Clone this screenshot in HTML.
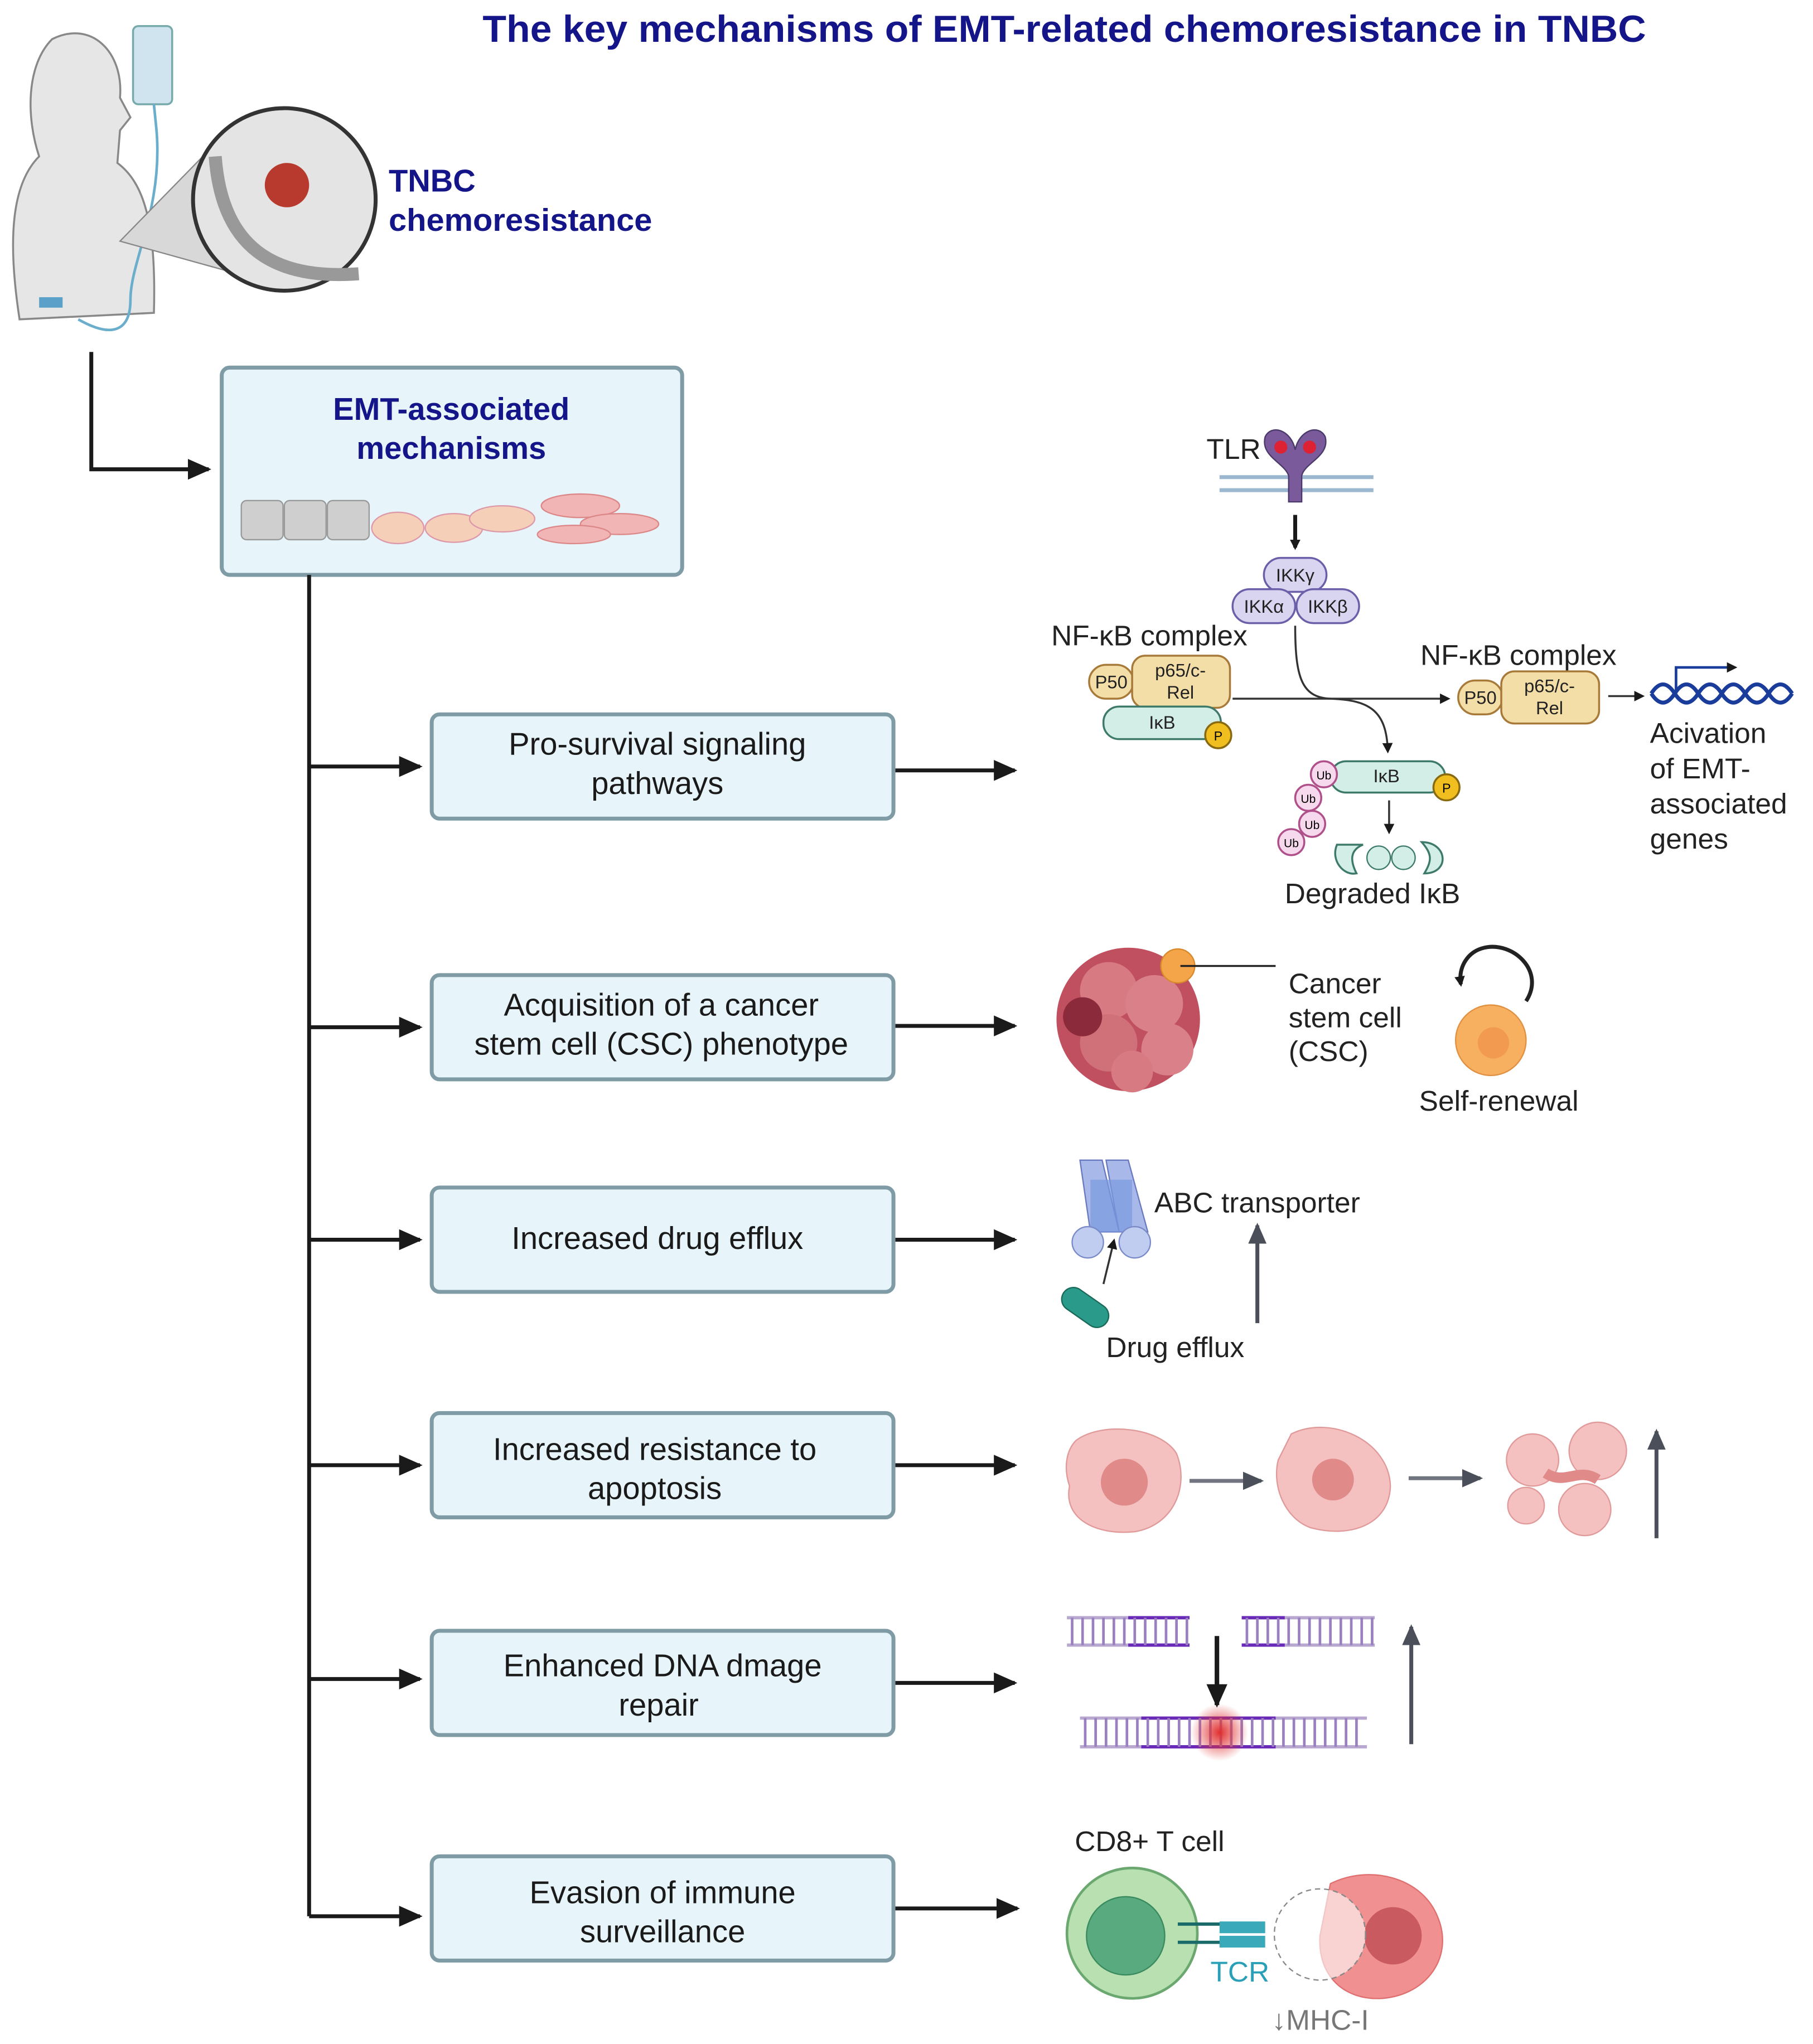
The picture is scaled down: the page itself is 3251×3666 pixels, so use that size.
<!DOCTYPE html>
<html><head><meta charset="utf-8"><style>
html,body{margin:0;padding:0;background:#fff}
svg{display:block}
text{font-family:"Liberation Sans",sans-serif}
.bx{fill:#e7f4f9;stroke:#7f9ba6;stroke-width:3}
.bt{font-size:24px;fill:#1a1a1a;text-anchor:middle}
.ln{stroke:#1a1a1a;stroke-width:3;fill:none}
.lb{font-size:22px;fill:#222}
.sm{font-size:14px;fill:#222;text-anchor:middle}
.ikk{fill:#d9d4f0;stroke:#6a5fa8;stroke-width:1.5}
.nf{fill:#f3dea8;stroke:#a87a3a;stroke-width:1.5}
.ib{fill:#d3eee6;stroke:#3d7a6a;stroke-width:1.5}
.ub{fill:#f6d9ec;stroke:#b0508a;stroke-width:1.5}
.p{fill:#f0be1e;stroke:#8a6a10;stroke-width:1.5}
</style></head><body>
<svg width="3251" height="3666" viewBox="0 0 1390 1568" preserveAspectRatio="none" xmlns="http://www.w3.org/2000/svg">
<defs>
<marker id="a" markerWidth="8" markerHeight="8" refX="6" refY="4" orient="auto" markerUnits="userSpaceOnUse" viewBox="0 0 8 8"><path d="M0,0 L8,4 L0,8z" fill="#1a1a1a"/></marker>
<marker id="A" markerWidth="18" markerHeight="16" refX="16" refY="8" orient="auto" markerUnits="userSpaceOnUse"><path d="M0,0 L18,8 L0,16z" fill="#1a1a1a"/></marker>
<marker id="g" markerWidth="16" markerHeight="14" refX="14" refY="7" orient="auto" markerUnits="userSpaceOnUse"><path d="M0,0 L16,7 L0,14z" fill="#4a4f5a"/></marker>
<radialGradient id="rd"><stop offset="0" stop-color="#e03030"/><stop offset="1" stop-color="#e03030" stop-opacity="0"/></radialGradient>
</defs>
<text x="370" y="32" font-size="29" font-weight="bold" fill="#15158a" textLength="892" lengthAdjust="spacingAndGlyphs">The key mechanisms of EMT-related chemoresistance in TNBC</text>
<!-- woman -->
<path d="M40,30 C70,15 95,40 92,75 L100,90 L92,100 L90,125 C110,140 120,170 118,240 L15,245 C5,180 10,140 30,120 C20,90 20,50 40,30z" fill="#e6e6e6" stroke="#888" stroke-width="1.5"/>
<rect x="102" y="20" width="30" height="60" rx="4" fill="#cfe4ee" stroke="#7aa" stroke-width="1.5"/>
<path d="M118,80 L120,100 C125,160 100,200 100,230 C100,250 90,262 60,245" fill="none" stroke="#6aaecb" stroke-width="2"/>
<rect x="30" y="228" width="18" height="8" fill="#5aa0c8"/>
<path d="M92,185 L175,100 L200,215z" fill="#d8d8d8" stroke="#888"/>
<circle cx="218" cy="153" r="70" fill="#e4e4e4" stroke="#333" stroke-width="3"/>
<path d="M165,120 C170,190 210,215 275,210" fill="none" stroke="#999" stroke-width="10"/>
<circle cx="220" cy="142" r="17" fill="#b83a2e"/>
<text x="298" y="147" font-size="24" font-weight="bold" fill="#15158a">TNBC</text>
<text x="298" y="177" font-size="24" font-weight="bold" fill="#15158a" textLength="202" lengthAdjust="spacingAndGlyphs">chemoresistance</text>
<!-- connectors -->
<path class="ln" d="M70,270 L70,360 L160,360" marker-end="url(#A)"/>
<rect class="bx" x="170" y="282" width="353" height="159" rx="6"/>
<text x="346" y="322" text-anchor="middle" font-size="24" font-weight="bold" fill="#15158a">EMT-associated</text>
<text x="346" y="352" text-anchor="middle" font-size="24" font-weight="bold" fill="#15158a">mechanisms</text>
<rect x="185" y="384" width="32" height="30" rx="4" fill="#cfcfcf" stroke="#999"/>
<rect x="218" y="384" width="32" height="30" rx="4" fill="#cfcfcf" stroke="#999"/>
<rect x="251" y="384" width="32" height="30" rx="4" fill="#cfcfcf" stroke="#999"/>
<ellipse cx="305" cy="405" rx="20" ry="12" fill="#f5cfb8" stroke="#d9a"/>
<ellipse cx="348" cy="405" rx="22" ry="11" fill="#f5cfb8" stroke="#d9a"/>
<ellipse cx="385" cy="398" rx="25" ry="10" fill="#f5cfb8" stroke="#d9a"/>
<ellipse cx="445" cy="388" rx="30" ry="9" fill="#f2b5b5" stroke="#d88"/>
<ellipse cx="475" cy="402" rx="30" ry="8" fill="#f2b5b5" stroke="#d88"/>
<ellipse cx="440" cy="410" rx="28" ry="7" fill="#f2b5b5" stroke="#d88"/>
<path class="ln" d="M237,441 L237,1470"/>
<g class="ln">
<path d="M237,588 L322,588" marker-end="url(#A)"/>
<path d="M237,788 L322,788" marker-end="url(#A)"/>
<path d="M237,951 L322,951" marker-end="url(#A)"/>
<path d="M237,1124 L322,1124" marker-end="url(#A)"/>
<path d="M237,1288 L322,1288" marker-end="url(#A)"/>
<path d="M237,1470 L322,1470" marker-end="url(#A)"/>
<path d="M686,591 L778,591" marker-end="url(#A)"/>
<path d="M686,787 L778,787" marker-end="url(#A)"/>
<path d="M686,951 L778,951" marker-end="url(#A)"/>
<path d="M686,1124 L778,1124" marker-end="url(#A)"/>
<path d="M686,1291 L778,1291" marker-end="url(#A)"/>
<path d="M686,1464 L780,1464" marker-end="url(#A)"/>
</g>
<rect class="bx" x="331" y="548" width="354" height="80" rx="6"/>
<text class="bt" x="504" y="579">Pro-survival signaling</text><text class="bt" x="504" y="609">pathways</text>
<rect class="bx" x="331" y="748" width="354" height="80" rx="6"/>
<text class="bt" x="507" y="779">Acquisition of a cancer</text><text class="bt" x="507" y="809">stem cell (CSC) phenotype</text>
<rect class="bx" x="331" y="911" width="354" height="80" rx="6"/>
<text class="bt" x="504" y="958">Increased drug efflux</text>
<rect class="bx" x="331" y="1084" width="354" height="80" rx="6"/>
<text class="bt" x="502" y="1120">Increased resistance to</text><text class="bt" x="502" y="1150">apoptosis</text>
<rect class="bx" x="331" y="1251" width="354" height="80" rx="6"/>
<text class="bt" x="508" y="1286">Enhanced DNA dmage</text><text class="bt" x="505" y="1316">repair</text>
<rect class="bx" x="331" y="1424" width="354" height="80" rx="6"/>
<text class="bt" x="508" y="1460">Evasion of immune</text><text class="bt" x="508" y="1490">surveillance</text>
<!-- NF-kB -->
<line x1="935" y1="366" x2="1053" y2="366" stroke="#9bb8d0" stroke-width="3"/>
<line x1="935" y1="376" x2="1053" y2="376" stroke="#9bb8d0" stroke-width="3"/>
<path d="M970,335 C975,325 990,330 993,345 C996,330 1011,325 1016,335 C1020,350 1000,355 998,365 L998,385 L988,385 L988,365 C985,355 966,350 970,335z" fill="#7a5a9a" stroke="#4a3a6a"/>
<circle cx="982" cy="343" r="5" fill="#d23"/><circle cx="1004" cy="343" r="5" fill="#d23"/>
<text class="lb" x="925" y="352">TLR</text>
<path class="ln" d="M993,395 L993,420" stroke-width="1.5" marker-end="url(#a)"/>
<rect class="ikk" x="969" y="428" width="48" height="26" rx="13"/><text class="sm" x="993" y="446">IKKγ</text>
<rect class="ikk" x="945" y="452" width="48" height="26" rx="13"/><text class="sm" x="969" y="470">IKKα</text>
<rect class="ikk" x="994" y="452" width="48" height="26" rx="13"/><text class="sm" x="1018" y="470">IKKβ</text>
<text class="lb" x="806" y="495">NF-κB complex</text>
<rect class="nf" x="835" y="510" width="34" height="26" rx="13"/><text class="sm" x="852" y="528">P50</text>
<rect class="nf" x="868" y="503" width="75" height="40" rx="10"/><text class="sm" x="905" y="519">p65/c-</text><text class="sm" x="905" y="536">Rel</text>
<rect class="ib" x="846" y="542" width="90" height="25" rx="12"/><text class="sm" x="891" y="559">IκB</text>
<circle class="p" cx="934" cy="564" r="10"/><text x="934" y="568" font-size="10" text-anchor="middle">P</text>
<path d="M945,536 L1110,536" stroke="#333" stroke-width="1.5" marker-end="url(#a)"/>
<path d="M993,480 C993,520 998,535 1020,536 C1050,537 1063,545 1064,576" fill="none" stroke="#333" stroke-width="1.5" marker-end="url(#a)"/>
<text class="lb" x="1089" y="510">NF-κB complex</text>
<rect class="nf" x="1118" y="522" width="34" height="26" rx="13"/><text class="sm" x="1135" y="540">P50</text>
<rect class="nf" x="1151" y="515" width="75" height="40" rx="10"/><text class="sm" x="1188" y="531">p65/c-</text><text class="sm" x="1188" y="548">Rel</text>
<path d="M1233,534 L1259,534" stroke="#333" stroke-width="1.5" marker-end="url(#a)"/>
<path d="M1266,532 q9,-14 18,0 t18,0 t18,0 t18,0 t18,0 t18,0 M1266,532 q9,14 18,0 t18,0 t18,0 t18,0 t18,0 t18,0" fill="none" stroke="#1a3c9a" stroke-width="3"/>
<path d="M1285,532 L1285,512 L1330,512" fill="none" stroke="#1a3c9a" stroke-width="2" marker-end="url(#a)"/>
<text class="lb" x="1265" y="570">Acivation</text><text class="lb" x="1265" y="597">of EMT-</text><text class="lb" x="1265" y="624">associated</text><text class="lb" x="1265" y="651">genes</text>
<rect class="ib" x="1020" y="584" width="88" height="24" rx="12"/><text class="sm" x="1063" y="600">IκB</text>
<circle class="p" cx="1109" cy="604" r="10"/><text x="1109" y="608" font-size="10" text-anchor="middle">P</text>
<circle class="ub" cx="1015" cy="594" r="10"/><circle class="ub" cx="1003" cy="612" r="10"/><circle class="ub" cx="1006" cy="632" r="10"/><circle class="ub" cx="990" cy="646" r="10"/>
<text x="1015" y="598" font-size="9" text-anchor="middle">Ub</text><text x="1003" y="616" font-size="9" text-anchor="middle">Ub</text><text x="1006" y="636" font-size="9" text-anchor="middle">Ub</text><text x="990" y="650" font-size="9" text-anchor="middle">Ub</text>
<path d="M1065,614 L1065,638" stroke="#333" stroke-width="1.5" marker-end="url(#a)"/>
<path d="M1025,648 C1020,660 1030,672 1040,670 C1035,660 1035,652 1045,648z M1090,646 C1110,646 1112,670 1092,670 C1098,660 1098,655 1090,646z" fill="#d3eee6" stroke="#3d7a6a" stroke-width="1.5"/>
<circle cx="1057" cy="658" r="9" fill="#d3eee6" stroke="#3d7a6a"/><circle cx="1076" cy="658" r="9" fill="#d3eee6" stroke="#3d7a6a"/>
<text class="lb" x="985" y="693">Degraded IκB</text>
<!-- CSC -->
<circle cx="865" cy="782" r="55" fill="#c05060"/>
<circle cx="850" cy="760" r="22" fill="#d77a82"/><circle cx="885" cy="770" r="22" fill="#d98088"/><circle cx="850" cy="800" r="22" fill="#d07078"/><circle cx="895" cy="805" r="20" fill="#d98088"/><circle cx="830" cy="780" r="15" fill="#8a2a3a"/><circle cx="868" cy="822" r="16" fill="#d77a82"/>
<circle cx="903" cy="741" r="13" fill="#f4a54a" stroke="#d88a2a"/>
<line x1="905" y1="741" x2="978" y2="741" stroke="#222" stroke-width="1.5"/>
<text class="lb" x="988" y="762">Cancer</text><text class="lb" x="988" y="788">stem cell</text><text class="lb" x="988" y="814">(CSC)</text>
<circle cx="1143" cy="798" r="27" fill="#f6b060" stroke="#e09040"/><circle cx="1145" cy="800" r="12" fill="#f29a50"/>
<path d="M1170,768 C1185,745 1160,722 1138,727 C1125,730 1118,742 1120,755" fill="none" stroke="#222" stroke-width="3" marker-end="url(#a)"/>
<text class="lb" x="1088" y="852">Self-renewal</text>
<!-- ABC -->
<path d="M828,890 L845,890 L858,945 L836,945z M848,890 L865,890 L880,945 L858,945z" fill="#a8b8e8" stroke="#6a7ac0"/>
<rect x="836" y="905" width="32" height="40" fill="#7a9ae0" opacity="0.7"/>
<circle cx="834" cy="953" r="12" fill="#c0cdf0" stroke="#7a8ac8"/><circle cx="870" cy="953" r="12" fill="#c0cdf0" stroke="#7a8ac8"/>
<rect x="812" y="994" width="40" height="18" rx="9" transform="rotate(35 832 1003)" fill="#2a9a8a" stroke="#1a6a5a"/>
<path d="M846,985 L854,952" stroke="#333" stroke-width="1.5" marker-end="url(#a)"/>
<text class="lb" x="885" y="930">ABC transporter</text>
<path d="M964,1015 L964,940" stroke="#4a4f5a" stroke-width="3" marker-end="url(#g)"/>
<text class="lb" x="848" y="1041">Drug efflux</text>
<!-- apoptosis -->
<path d="M825,1105 C845,1090 890,1095 902,1115 C912,1140 900,1170 870,1175 C840,1178 815,1165 820,1140 C815,1125 818,1112 825,1105z" fill="#f4c0c0" stroke="#e09a9a"/>
<circle cx="862" cy="1137" r="18" fill="#e08a8a"/>
<path d="M990,1100 C1020,1085 1065,1105 1066,1140 C1065,1170 1035,1180 1005,1172 C985,1165 975,1140 980,1120z" fill="#f4c0c0" stroke="#e09a9a"/>
<circle cx="1022" cy="1135" r="16" fill="#e08a8a"/>
<path d="M912,1136 L967,1136" stroke="#707580" stroke-width="3" marker-end="url(#g)"/>
<path d="M1080,1134 L1135,1134" stroke="#707580" stroke-width="3" marker-end="url(#g)"/>
<circle cx="1175" cy="1120" r="20" fill="#f4c0c0" stroke="#e09a9a"/><circle cx="1225" cy="1113" r="22" fill="#f4c0c0" stroke="#e09a9a"/><circle cx="1170" cy="1155" r="14" fill="#f4c0c0" stroke="#e09a9a"/><circle cx="1215" cy="1158" r="20" fill="#f4c0c0" stroke="#e09a9a"/><path d="M1185,1130 C1200,1140 1210,1125 1225,1135" stroke="#e08a8a" stroke-width="8" fill="none"/>
<path d="M1270,1180 L1270,1098" stroke="#4a4f5a" stroke-width="3" marker-end="url(#g)"/>
<!-- DNA -->
<g stroke-width="2.5">
<path d="M818,1241 L912,1241 M818,1262 L912,1262" stroke="#b8a8d0"/>
<path d="M865,1241 L912,1241 M865,1262 L912,1262" stroke="#6a2ab8"/>
<path d="M952,1241 L1054,1241 M952,1262 L1054,1262" stroke="#b8a8d0"/>
<path d="M952,1241 L985,1241 M952,1262 L985,1262" stroke="#6a2ab8"/>
<path d="M828,1318 L1048,1318 M828,1340 L1048,1340" stroke="#b8a8d0"/>
<path d="M875,1318 L978,1318 M875,1340 L978,1340" stroke="#6a2ab8"/>
</g>
<path d="M822,1241v21M830,1241v21M838,1241v21M846,1241v21M854,1241v21M862,1241v21M870,1241v21M878,1241v21M886,1241v21M894,1241v21M902,1241v21M910,1241v21M956,1241v21M964,1241v21M972,1241v21M980,1241v21M988,1241v21M996,1241v21M1004,1241v21M1012,1241v21M1020,1241v21M1028,1241v21M1036,1241v21M1044,1241v21M1052,1241v21" stroke="#9a80c0" stroke-width="2"/>
<path d="M832,1318v22M840,1318v22M848,1318v22M856,1318v22M864,1318v22M872,1318v22M880,1318v22M888,1318v22M896,1318v22M904,1318v22M912,1318v22M920,1318v22M928,1318v22M936,1318v22M944,1318v22M952,1318v22M960,1318v22M968,1318v22M976,1318v22M984,1318v22M992,1318v22M1000,1318v22M1008,1318v22M1016,1318v22M1024,1318v22M1032,1318v22M1040,1318v22" stroke="#9a80c0" stroke-width="2"/>
<circle cx="935" cy="1329" r="22" fill="url(#rd)"/>
<path d="M933,1255 L933,1308" stroke="#1a1a1a" stroke-width="3.5" marker-end="url(#A)"/>
<path d="M1082,1338 L1082,1248" stroke="#4a4f5a" stroke-width="3" marker-end="url(#g)"/>
<!-- immune -->
<text class="lb" x="824" y="1420">CD8+ T cell</text>
<circle cx="868" cy="1483" r="50" fill="#b8e0b0" stroke="#6aa870" stroke-width="2"/>
<circle cx="863" cy="1485" r="30" fill="#5aaa80" stroke="#3a8a60"/>
<path d="M903,1476 L940,1476 M903,1490 L940,1490" stroke="#1a6a6a" stroke-width="2.5"/>
<rect x="935" y="1474" width="35" height="9" fill="#3aaaba"/><rect x="935" y="1485" width="35" height="9" fill="#3aaaba"/>
<path d="M1020,1445 C1050,1430 1090,1440 1102,1470 C1115,1500 1095,1530 1060,1533 C1030,1535 1010,1515 1012,1485z" fill="#f09090" stroke="#e07070"/>
<circle cx="1068" cy="1485" r="22" fill="#c85a60"/>
<circle cx="1012" cy="1484" r="35" fill="#fff" fill-opacity="0.6" stroke="#888" stroke-dasharray="4 3"/>
<text x="928" y="1520" font-size="22" fill="#2aa0b8">TCR</text>
<text x="975" y="1557" font-size="22" fill="#777">↓MHC-I</text>
</svg>
</body></html>
